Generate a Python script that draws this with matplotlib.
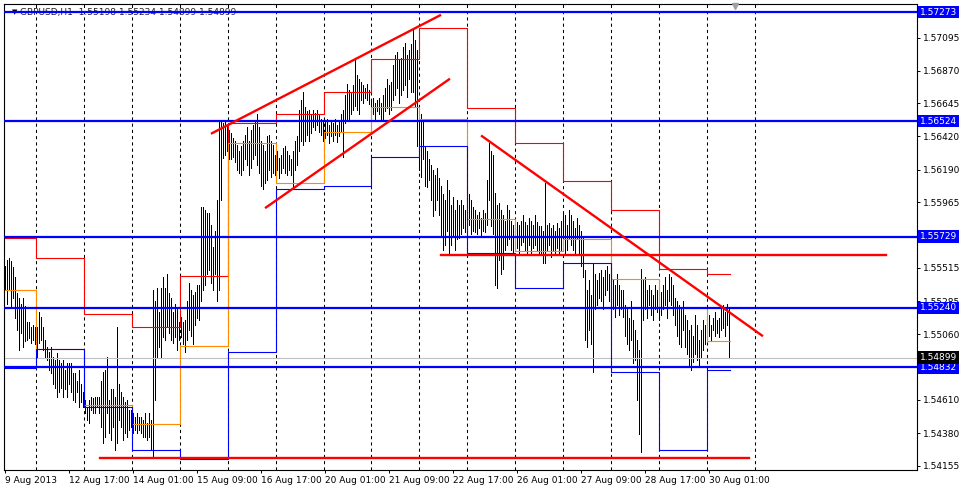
import matplotlib.pyplot as plt
import matplotlib.transforms as mtransforms

header = "GBPUSD,H1  1.55198 1.55234 1.54899 1.54899"

# hourly bars, high / low (one value per bar)
bar_high = [
    1.5553, 1.5557, 1.5558, 1.5556, 1.5552, 1.5545, 1.5534, 1.5531, 1.5527, 1.5531, 1.5525, 1.5514,
    1.5514, 1.5511, 1.5512, 1.5511, 1.5511, 1.5521, 1.5518, 1.5511, 1.5502, 1.5497, 1.5494, 1.5497,
    1.5490, 1.5488, 1.5493, 1.5488, 1.5486, 1.5488, 1.5481, 1.5486, 1.5486, 1.5486, 1.5479, 1.5479,
    1.5474, 1.5481, 1.5472, 1.5466, 1.5461, 1.5456, 1.5461, 1.5463, 1.5462, 1.5463, 1.5463, 1.5463,
    1.5474, 1.5480, 1.5481, 1.5490, 1.5461, 1.5468, 1.5468, 1.5463, 1.5511, 1.5472, 1.5466, 1.5463,
    1.5459, 1.5461, 1.5454, 1.5454, 1.5452, 1.5449, 1.5452, 1.5449, 1.5449, 1.5447, 1.5452, 1.5445,
    1.5452, 1.5447, 1.5536, 1.5529, 1.5538, 1.5521, 1.5538, 1.5545, 1.5538, 1.5547, 1.5534, 1.5531,
    1.5521, 1.5527, 1.5523, 1.5514, 1.5518, 1.5514, 1.5516, 1.5529, 1.5541, 1.5536, 1.5533, 1.5535,
    1.5540, 1.5540, 1.5593, 1.5593, 1.5591, 1.5589, 1.5589, 1.5581, 1.5566, 1.5577, 1.5598, 1.5652,
    1.5653, 1.5651, 1.5652, 1.5650, 1.5646, 1.5644, 1.5641, 1.5639, 1.5636, 1.5632, 1.5635, 1.5639,
    1.5643, 1.5648, 1.5639, 1.5646, 1.5650, 1.5653, 1.5657, 1.5648, 1.5639, 1.5636, 1.5632, 1.5642,
    1.5643, 1.5639, 1.5636, 1.5629, 1.5632, 1.5627, 1.5629, 1.5634, 1.5635, 1.5632, 1.5629, 1.5626,
    1.5632, 1.5639, 1.5642, 1.5660, 1.5667, 1.5672, 1.5662, 1.5659, 1.5660, 1.5657, 1.5660, 1.5658,
    1.5660, 1.5657, 1.5654, 1.5653, 1.5652, 1.5654, 1.5650, 1.5653, 1.5651, 1.5654, 1.5650, 1.5653,
    1.5657, 1.5660, 1.5670, 1.5678, 1.5674, 1.5672, 1.5677, 1.5695, 1.5684, 1.5681, 1.5679, 1.5677,
    1.5675, 1.5678, 1.5674, 1.5667, 1.5668, 1.5665, 1.5667, 1.5668, 1.5665, 1.5670, 1.5675, 1.5681,
    1.5677, 1.5679, 1.5691, 1.5698, 1.5700, 1.5694, 1.5696, 1.5703, 1.5706, 1.5698, 1.5701, 1.5705,
    1.5716, 1.5708, 1.5701, 1.5663, 1.5657, 1.5653, 1.5635, 1.5632, 1.5626, 1.5622, 1.5619, 1.5615,
    1.5620, 1.5613, 1.5608, 1.5602, 1.5598, 1.5612, 1.5605, 1.5595, 1.5600, 1.5591, 1.5598, 1.5595,
    1.5598, 1.5595, 1.5591, 1.5600, 1.5602, 1.5598, 1.5593, 1.5591, 1.5588, 1.5590, 1.5586, 1.5591,
    1.5589, 1.5612, 1.5637, 1.5632, 1.5629, 1.5603, 1.5595, 1.5596, 1.5591, 1.5588, 1.5584, 1.5595,
    1.5591, 1.5584, 1.5581, 1.5586, 1.5583, 1.5581, 1.5584, 1.5588, 1.5583, 1.5581, 1.5586, 1.5584,
    1.5581, 1.5588, 1.5583, 1.5580, 1.5580, 1.5577, 1.5610, 1.5581, 1.5582, 1.5579, 1.5581, 1.5577,
    1.5582, 1.5579, 1.5584, 1.5589, 1.5588, 1.5581, 1.5591, 1.5588, 1.5584, 1.5579, 1.5586, 1.5581,
    1.5577, 1.5572, 1.5550, 1.5536, 1.5543, 1.5533, 1.5555, 1.5547, 1.5543, 1.5548, 1.5550, 1.5545,
    1.5550, 1.5553, 1.5547, 1.5550, 1.5543, 1.5540, 1.5547, 1.5540, 1.5536, 1.5536, 1.5526, 1.5523,
    1.5517, 1.5529, 1.5516, 1.5509, 1.5502, 1.5495, 1.5551, 1.5543, 1.5545, 1.5536, 1.5540, 1.5536,
    1.5533, 1.5540, 1.5536, 1.5529, 1.5535, 1.5540, 1.5545, 1.5536, 1.5547, 1.5545, 1.5540, 1.5531,
    1.5529, 1.5526, 1.5523, 1.5529, 1.5519, 1.5516, 1.5509, 1.5512, 1.5505, 1.5519, 1.5512, 1.5502,
    1.5509, 1.5516, 1.5512, 1.5516, 1.5519, 1.5512, 1.5517, 1.5521, 1.5516, 1.5517, 1.5523, 1.5526,
    1.5521, 1.5527, 1.5523,
]
bar_low = [
    1.5536, 1.5527, 1.5536, 1.5525, 1.5531, 1.5517, 1.5509, 1.5495, 1.5507, 1.5497, 1.5501, 1.5502,
    1.5503, 1.5500, 1.5502, 1.5499, 1.5490, 1.5500, 1.5502, 1.5495, 1.5490, 1.5488, 1.5481, 1.5479,
    1.5472, 1.5469, 1.5463, 1.5466, 1.5469, 1.5463, 1.5468, 1.5463, 1.5472, 1.5466, 1.5461, 1.5459,
    1.5466, 1.5456, 1.5459, 1.5456, 1.5452, 1.5447, 1.5445, 1.5454, 1.5452, 1.5452, 1.5456, 1.5452,
    1.5442, 1.5431, 1.5435, 1.5452, 1.5438, 1.5433, 1.5442, 1.5426, 1.5431, 1.5447, 1.5442, 1.5433,
    1.5438, 1.5435, 1.5440, 1.5442, 1.5438, 1.5440, 1.5438, 1.5440, 1.5438, 1.5435, 1.5435, 1.5433,
    1.5435, 1.5426, 1.5421, 1.5461, 1.5490, 1.5497, 1.5490, 1.5504, 1.5502, 1.5511, 1.5507, 1.5502,
    1.5500, 1.5504, 1.5495, 1.5502, 1.5504, 1.5499, 1.5494, 1.5502, 1.5509, 1.5505, 1.5499, 1.5512,
    1.5517, 1.5516, 1.5529, 1.5536, 1.5540, 1.5547, 1.5550, 1.5541, 1.5536, 1.5547, 1.5529, 1.5536,
    1.5598, 1.5627, 1.5629, 1.5632, 1.5626, 1.5626, 1.5628, 1.5624, 1.5619, 1.5617, 1.5615, 1.5619,
    1.5626, 1.5622, 1.5615, 1.5620, 1.5626, 1.5629, 1.5622, 1.5617, 1.5608, 1.5606, 1.5610, 1.5612,
    1.5619, 1.5614, 1.5617, 1.5615, 1.5619, 1.5613, 1.5617, 1.5620, 1.5617, 1.5615, 1.5619, 1.5615,
    1.5608, 1.5619, 1.5622, 1.5632, 1.5639, 1.5636, 1.5639, 1.5643, 1.5639, 1.5644, 1.5648, 1.5646,
    1.5650, 1.5645, 1.5643, 1.5639, 1.5641, 1.5643, 1.5637, 1.5642, 1.5639, 1.5643, 1.5638, 1.5642,
    1.5645, 1.5628, 1.5651, 1.5654, 1.5653, 1.5657, 1.5660, 1.5663, 1.5660, 1.5657, 1.5667, 1.5665,
    1.5668, 1.5667, 1.5664, 1.5654, 1.5657, 1.5653, 1.5659, 1.5657, 1.5654, 1.5654, 1.5659, 1.5661,
    1.5657, 1.5660, 1.5667, 1.5670, 1.5675, 1.5665, 1.5670, 1.5674, 1.5677, 1.5669, 1.5681, 1.5672,
    1.5672, 1.5663, 1.5635, 1.5619, 1.5614, 1.5626, 1.5608, 1.5607, 1.5612, 1.5598, 1.5587, 1.5591,
    1.5598, 1.5588, 1.5574, 1.5564, 1.5567, 1.5577, 1.5562, 1.5567, 1.5574, 1.5564, 1.5571, 1.5572,
    1.5575, 1.5579, 1.5576, 1.5581, 1.5581, 1.5575, 1.5577, 1.5576, 1.5575, 1.5579, 1.5574, 1.5577,
    1.5576, 1.5581, 1.5598, 1.5580, 1.5575, 1.5540, 1.5538, 1.5557, 1.5547, 1.5551, 1.5564, 1.5567,
    1.5571, 1.5564, 1.5562, 1.5567, 1.5565, 1.5560, 1.5567, 1.5569, 1.5564, 1.5562, 1.5567, 1.5560,
    1.5565, 1.5567, 1.5564, 1.5562, 1.5560, 1.5555, 1.5555, 1.5564, 1.5567, 1.5559, 1.5564, 1.5560,
    1.5565, 1.5562, 1.5564, 1.5567, 1.5562, 1.5564, 1.5571, 1.5567, 1.5564, 1.5562, 1.5571, 1.5560,
    1.5553, 1.5545, 1.5502, 1.5497, 1.5509, 1.5499, 1.5480, 1.5523, 1.5526, 1.5531, 1.5529, 1.5523,
    1.5533, 1.5536, 1.5529, 1.5529, 1.5523, 1.5518, 1.5526, 1.5519, 1.5523, 1.5518, 1.5505, 1.5499,
    1.5495, 1.5502, 1.5486, 1.5488, 1.5461, 1.5437, 1.5425, 1.5516, 1.5523, 1.5517, 1.5526, 1.5519,
    1.5516, 1.5523, 1.5521, 1.5516, 1.5519, 1.5523, 1.5526, 1.5517, 1.5529, 1.5526, 1.5519, 1.5512,
    1.5505, 1.5499, 1.5497, 1.5509, 1.5497, 1.5492, 1.5485, 1.5481, 1.5487, 1.5492, 1.5488, 1.5485,
    1.5490, 1.5495, 1.5499, 1.5504, 1.5505, 1.5502, 1.5509, 1.5505, 1.5507, 1.5504, 1.5509, 1.5510,
    1.5505, 1.5512, 1.5490,
]

# day separators (bar index) and previous-day levels per day
day_breaks = [15.4, 39.4, 63.3, 87.3, 111.3, 135.3, 159.3, 183.2,
              207.2, 231.2, 255.2, 279.1, 303.1, 327.1, 351.1, 375.0]
prev_high = [1.5572, 1.5558, 1.5520, 1.5511, 1.5546, 1.5651, 1.5657, 1.5672,
             1.5695, 1.5716, 1.5661, 1.5637, 1.5611, 1.5591, 1.5551, 1.5547]
prev_close = [1.5536, 1.5496, 1.5457, 1.5444, 1.5498, 1.5637, 1.5610, 1.5645,
              1.5662, 1.5654, 1.5585, 1.5563, 1.5571, 1.5544, 1.5524, 1.5501]
prev_low = [1.5483, 1.5496, 1.5456, 1.5426, 1.5420, 1.5494, 1.5606, 1.5608,
            1.5628, 1.5635, 1.5562, 1.5538, 1.5555, 1.5480, 1.5426, 1.5481]

key_levels = [1.57273, 1.56524, 1.55729, 1.55240, 1.54832]
last_price = 1.54899

# drawn trend lines: (bar, price) -> (bar, price)
trend_lines = [((103.5, 1.5644), (217.5, 1.5725)),
               ((130.5, 1.5593), (222.0, 1.5681)),
               ((238.5, 1.5642), (378.5, 1.5505))]
support_lines = [(218.0, 440.5, 1.5560), (47.5, 372.0, 1.5421)]

y_ticks = [1.57095, 1.56870, 1.56645, 1.56420, 1.56190, 1.55965,
           1.55515, 1.55285, 1.55060, 1.54610, 1.54380, 1.54155]
x_ticks = [0, 32, 64, 96, 128, 160, 192, 224, 256, 288, 320, 352]
x_labels = ["9 Aug 2013", "12 Aug 17:00", "14 Aug 01:00", "15 Aug 09:00",
            "16 Aug 17:00", "20 Aug 01:00", "21 Aug 09:00", "22 Aug 17:00",
            "26 Aug 01:00", "27 Aug 09:00", "28 Aug 17:00", "30 Aug 01:00"]

plt.rcParams['font.family'] = ['DejaVu Sans']
fs = 6.5

fig = plt.figure(figsize=(9.62, 4.90), dpi=100)
ax = fig.add_axes([4 / 962, 20 / 490, 913 / 962, 466 / 490])

# grid
for xb in day_breaks:
    ax.axvline(xb, color='black', lw=0.75, ls=(0, (3, 3)), zorder=0.5)

# bars
idx = list(range(len(bar_high)))
ax.vlines(idx, bar_low, bar_high, color='black', lw=0.72, zorder=1, antialiased=False)

# previous day high / close / low
starts = [0] + day_breaks[:-1]
xs = starts + [362.5]
ax.step(xs, prev_high + [prev_high[-1]], where='post', color='#ff0000', lw=0.8, zorder=2)
ax.step(xs, prev_close + [prev_close[-1]], where='post', color='#ff8c00', lw=0.8, zorder=2)
ax.step(xs, prev_low + [prev_low[-1]], where='post', color='#0000ff', lw=0.8, zorder=2.1)

ax.axhline(last_price, color='#c0c0c0', lw=0.8, zorder=1.5)
for lv in key_levels:
    ax.axhline(lv, color='#0000ff', lw=1.6, zorder=3)

for (x0, y0), (x1, y1) in trend_lines:
    ax.plot([x0, x1], [y0, y1], color='#ff0000', lw=1.7, zorder=4)
for x0, x1, lv in support_lines:
    ax.plot([x0, x1], [lv, lv], color='#ff0000', lw=1.7, zorder=4)

ax.set_xlim(-0.5, 456)
ax.set_ylim(1.54126, 1.57328)

ax.yaxis.tick_right()
ax.set_yticks(y_ticks)
ax.set_yticklabels([f"{v:.5f}" for v in y_ticks], fontsize=fs)
ax.set_xticks(x_ticks)
ax.set_xticklabels(x_labels, fontsize=fs, ha='left')
ax.tick_params(axis='both', direction='out', length=2.5, width=0.7, pad=1.5, colors='black')
ax.tick_params(axis='x', pad=2)
for sp in ax.spines.values():
    sp.set_linewidth(0.8)

trans = mtransforms.blended_transform_factory(ax.transAxes, ax.transData)
for lv in key_levels:
    ax.text(1.0035, lv, f"{lv:.5f}", transform=trans, fontsize=fs, color='white',
            va='center', ha='left', zorder=10, clip_on=False,
            bbox=dict(boxstyle='square,pad=0.2', fc='#0000ff', ec='none'))
ax.text(1.0035, last_price, f"{last_price:.5f}", transform=trans, fontsize=fs, color='white',
        va='center', ha='left', zorder=10, clip_on=False,
        bbox=dict(boxstyle='square,pad=0.2', fc='black', ec='none'))

# header text
ax.text(0.009, 0.982, "\u25bc", transform=ax.transAxes, fontsize=5, color='black',
        va='center', ha='left', zorder=2)
ax.text(0.018, 0.982, header, transform=ax.transAxes, fontsize=fs, color='#202020',
        va='center', ha='left', zorder=2)

# chart shift marker
ax.plot([365], [0.995], marker='v', ms=5, color='#a0a0a0',
        transform=mtransforms.blended_transform_factory(ax.transData, ax.transAxes),
        clip_on=False, zorder=5)

fig.savefig("out.png", dpi=100, facecolor='white')
